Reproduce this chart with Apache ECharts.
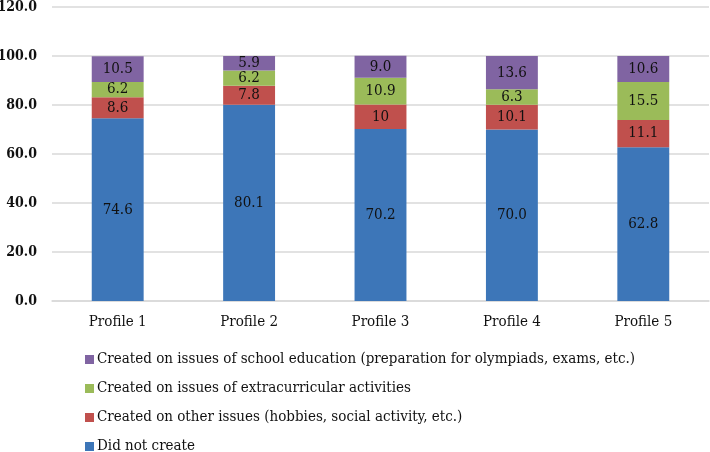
<!DOCTYPE html>
<html>
<head>
<meta charset="utf-8">
<script src="https://cdn.jsdelivr.net/npm/echarts@6/dist/echarts.min.js"></script>
<style>
  html, body { margin: 0; padding: 0; background: #fff; }
  #main { width: 710px; height: 452px; }
</style>
</head>
<body>
<div id="main"></div>
<script>
var categories = ['Profile 1', 'Profile 2', 'Profile 3', 'Profile 4', 'Profile 5'];
var didNotCreate = [74.6, 80.1, 70.2, 70.0, 62.8];
var otherIssues = [8.6, 7.8, 10, 10.1, 11.1];
var extracurricular = [6.2, 6.2, 10.9, 6.3, 15.5];
var schoolEducation = [10.5, 5.9, 9.0, 13.6, 10.6];
// label text as printed on the bars
var didNotCreateText = ['74.6', '80.1', '70.2', '70.0', '62.8'];
var otherIssuesText = ['8.6', '7.8', '10', '10.1', '11.1'];
var extracurricularText = ['6.2', '6.2', '10.9', '6.3', '15.5'];
var schoolEducationText = ['10.5', '5.9', '9.0', '13.6', '10.6'];

var seriesNames = [
    'Did not create',
    'Created on other issues (hobbies, social activity, etc.)',
    'Created on issues of extracurricular activities',
    'Created on issues of school education (preparation for olympiads, exams, etc.)'
];

var font = '"DejaVu Serif Condensed", "DejaVu Serif", serif';

var myChart = echarts.init(document.getElementById('main'), null, { renderer: 'canvas' });

function barSeries(name, values, texts, color) {
    return {
        name: name,
        type: 'bar',
        stack: 'total',
        barWidth: '39.5%',
        itemStyle: { color: color },
        label: {
            show: true,
            position: 'inside',
            color: '#111',
            fontFamily: font,
            fontSize: 15,
            formatter: function (p) { return texts[p.dataIndex]; }
        },
        data: values
    };
}

var option = {
    backgroundColor: '#fff',
    animation: false,
    grid: { left: 52, right: 1, top: 7, bottom: 151, outerBoundsMode: 'none', containLabel: false },
    legend: {
        orient: 'vertical',
        left: 80,
        top: 347,
        height: 120,
        itemWidth: 9,
        itemHeight: 9,
        itemGap: 14,
        icon: 'rect',
        textStyle: { fontFamily: font, fontSize: 15, color: '#111', padding: [0, 0, 0, -2] },
        data: seriesNames.slice().reverse()
    },
    xAxis: {
        type: 'category',
        data: categories,
        axisLine: { lineStyle: { color: '#d9d9d9', width: 1.5 } },
        axisTick: { show: false },
        axisLabel: { fontFamily: font, fontSize: 15, color: '#111', margin: 14 }
    },
    yAxis: {
        type: 'value',
        min: 0,
        max: 120,
        interval: 20,
        axisLine: { show: false },
        axisTick: { show: false },
        splitLine: { lineStyle: { color: '#d9d9d9', width: 1.5 } },
        axisLabel: {
            fontFamily: font,
            fontSize: 14,
            fontWeight: 'bold',
            color: '#111',
            margin: 15,
            formatter: function (v) { return v.toFixed(1); }
        }
    },
    series: [
        barSeries(seriesNames[0], didNotCreate, didNotCreateText, '#3d76b8'),
        barSeries(seriesNames[1], otherIssues, otherIssuesText, '#c0504d'),
        barSeries(seriesNames[2], extracurricular, extracurricularText, '#9bbb59'),
        barSeries(seriesNames[3], schoolEducation, schoolEducationText, '#8064a2')
    ]
};

myChart.setOption(option);
</script>
</body>
</html>
